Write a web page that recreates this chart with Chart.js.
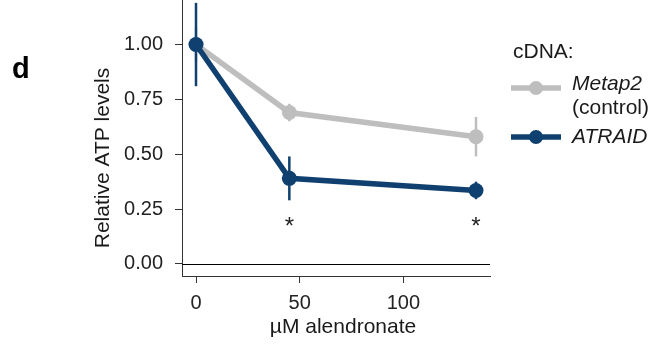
<!DOCTYPE html>
<html><head><meta charset="utf-8">
<script src="https://cdn.jsdelivr.net/npm/chart.js@4.4.1/dist/chart.umd.min.js"></script>
<style>html,body{margin:0;padding:0;background:#fff;overflow:hidden}</style>
</head><body>
<canvas id="c" width="667" height="345" style="display:block;width:667px;height:345px"></canvas>
<script>
// ---- data ----
const doses = [0, 45, 135];
const metap2Mean = [1.00, 0.69, 0.58];
const metap2Err = [0.08, 0.04, 0.09];
const atraidMean = [1.00, 0.39, 0.335];
const atraidErr = [0.19, 0.10, 0.04];
const xTicks = [0, 50, 100];
const yTicks = [0, 0.25, 0.5, 0.75, 1.0];
const sigDoses = [45, 135];
const sigY = [0.2, 0.2];
const refLineY = 0;

const FONT = "'Liberation Sans', Arial, sans-serif";
const GREY = '#bebebe';
const BLUE = '#0f406f';

const decor = {
  id: 'decor',
  beforeDatasetsDraw(chart) {
    const {ctx, chartArea: a, scales: {y}} = chart;
    const py = Math.round(y.getPixelForValue(refLineY)) + 0.5;
    ctx.save();
    ctx.strokeStyle = '#000'; ctx.lineWidth = 1;
    ctx.beginPath(); ctx.moveTo(a.left, py); ctx.lineTo(a.right, py); ctx.stroke();
    ctx.restore();
  },
  afterDatasetDraw(chart, args) {
    const ds = chart.data.datasets[args.index];
    const {ctx, chartArea: a, scales: {x, y}} = chart;
    ctx.save();
    ctx.beginPath(); ctx.rect(a.left, a.top, a.right - a.left, a.bottom - a.top); ctx.clip();
    ctx.strokeStyle = ds.errColor; ctx.lineWidth = 2.5;
    ds.data.forEach((p, i) => {
      const px = x.getPixelForValue(p.x);
      const e = ds.err[i];
      ctx.beginPath();
      ctx.moveTo(px, y.getPixelForValue(p.y + e));
      ctx.lineTo(px, y.getPixelForValue(p.y - e));
      ctx.stroke();
    });
    ctx.restore();
  },
  afterDraw(chart) {
    const {ctx, chartArea: a, scales: {x, y}} = chart;
    ctx.save();
    // significance asterisks
    ctx.fillStyle = '#222';
    ctx.font = `24px ${FONT}`;
    ctx.textAlign = 'center'; ctx.textBaseline = 'alphabetic';
    sigDoses.forEach((d, i) => {
      ctx.fillText('*', x.getPixelForValue(d), y.getPixelForValue(sigY[i]) + 14);
    });
    // axis titles
    ctx.fillStyle = '#1a1a1a';
    ctx.font = `21px ${FONT}`;
    ctx.textAlign = 'center'; ctx.textBaseline = 'middle';
    ctx.fillText('\u00B5M alendronate', 343, 327);
    ctx.save();
    ctx.translate(103, 158); ctx.rotate(-Math.PI / 2);
    ctx.fillText('Relative ATP levels', 0, 0);
    ctx.restore();
    // panel letter
    ctx.font = `bold 29px ${FONT}`;
    ctx.textAlign = 'left';
    ctx.fillStyle = '#000';
    ctx.fillText('d', 12, 70);
    // legend
    ctx.fillStyle = '#1a1a1a';
    ctx.font = `21px ${FONT}`;
    ctx.fillText('cDNA:', 513, 52);
    const items = [
      {c: GREY, y: 88, lines: [['Metap2', true, 84], ['(control)', false, 108]]},
      {c: BLUE, y: 137, lines: [['ATRAID', true, 137]]}
    ];
    items.forEach(it => {
      ctx.strokeStyle = it.c; ctx.lineWidth = 5.5;
      ctx.beginPath(); ctx.moveTo(511, it.y); ctx.lineTo(561, it.y); ctx.stroke();
      ctx.fillStyle = it.c;
      ctx.beginPath(); ctx.arc(536, it.y, 7, 0, Math.PI * 2); ctx.fill();
      ctx.fillStyle = '#1a1a1a';
      it.lines.forEach(([t, ital, ty]) => {
        ctx.font = `${ital ? 'italic ' : ''}21px ${FONT}`;
        ctx.fillText(t, 572, ty);
      });
    });
    ctx.restore();
  }
};

new Chart(document.getElementById('c'), {
  type: 'line',
  data: {
    datasets: [
      {
        label: 'Metap2 (control)', order: 2,
        data: doses.map((d, i) => ({x: d, y: metap2Mean[i]})),
        err: metap2Err, errColor: GREY,
        borderColor: GREY, backgroundColor: GREY, borderWidth: 5.5,
        pointRadius: 7.5, pointBorderWidth: 0, pointBackgroundColor: GREY, tension: 0
      },
      {
        label: 'ATRAID', order: 1,
        data: doses.map((d, i) => ({x: d, y: atraidMean[i]})),
        err: atraidErr, errColor: BLUE,
        borderColor: BLUE, backgroundColor: BLUE, borderWidth: 5.5,
        pointRadius: 7.5, pointBorderWidth: 0, pointBackgroundColor: BLUE, tension: 0
      }
    ]
  },
  options: {
    responsive: false, animation: false,
    layout: {autoPadding: false, padding: {left: 0, right: 177, top: 0, bottom: 0}},
    plugins: {legend: {display: false}, tooltip: {enabled: false}},
    scales: {
      x: {
        type: 'linear', min: -6.75, max: 141.75,
        afterBuildTicks: s => { s.ticks = xTicks.map(v => ({value: v})); },
        afterFit: s => { s.height = 69; s.paddingLeft = 0; s.paddingRight = 0; },
        grid: {drawOnChartArea: false, drawTicks: true, tickLength: 7, color: '#333', lineWidth: 1},
        border: {display: true, color: '#333', width: 1},
        ticks: {font: {family: FONT, size: 20}, color: '#222', padding: 8, maxRotation: 0}
      },
      y: {
        type: 'linear', min: -0.055, max: 1.203,
        afterBuildTicks: s => { s.ticks = yTicks.map(v => ({value: v})); },
        afterFit: s => { s.width = 182; s.paddingTop = 0; s.paddingBottom = 0; },
        grid: {drawOnChartArea: false, drawTicks: true, tickLength: 7, color: '#333', lineWidth: 1},
        border: {display: true, color: '#333', width: 1},
        ticks: {font: {family: FONT, size: 20}, color: '#222', padding: 12,
          callback: v => v.toFixed(2)}
      }
    }
  },
  plugins: [decor]
});
</script>
</body></html>
